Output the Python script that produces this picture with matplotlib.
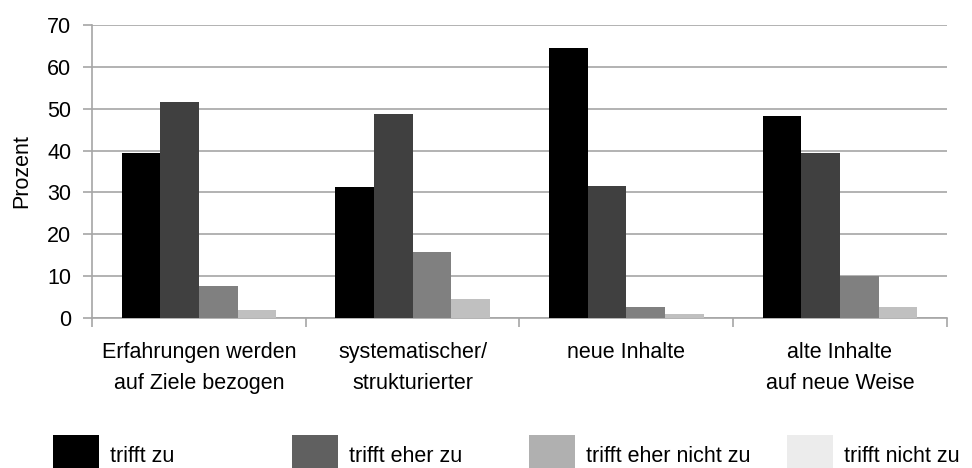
import numpy as np
import matplotlib
matplotlib.use("Agg")
import matplotlib.pyplot as plt
from matplotlib.patches import Rectangle

plt.rcParams['font.family'] = ['Liberation Sans', 'DejaVu Sans']

categories = ["Erfahrungen werden\nauf Ziele bezogen", "systematischer/\nstrukturierter",
              "neue Inhalte", "alte Inhalte\nauf neue Weise"]
series = ["trifft zu", "trifft eher zu", "trifft eher nicht zu", "trifft nicht zu"]
trifft_zu = [39.3, 31.3, 64.4, 48.2]
eher_zu = [51.5, 48.7, 31.5, 39.4]
eher_nicht_zu = [7.6, 15.8, 2.6, 10.0]
nicht_zu = [1.9, 4.5, 1.0, 2.6]

bar_colors = ["#000000", "#404040", "#808080", "#c0c0c0"]
legend_colors = ["#000000", "#606060", "#b0b0b0", "#ececec"]
fs = 15.5

fig = plt.figure(figsize=(9.72, 4.68), dpi=100)
ax = fig.add_axes([0.0947, 0.3205, 0.8793, 0.6261])

x = np.arange(len(categories))
width = 0.181
values = [trifft_zu, eher_zu, eher_nicht_zu, nicht_zu]
for i, vals in enumerate(values):
    ax.bar(x + (i - 1.5) * width, vals, width, color=bar_colors[i], zorder=3)

ax.set_xlim(-0.5, len(categories) - 0.5)
ax.set_ylim(0, 70)
ax.set_yticks(range(0, 71, 10))
ax.yaxis.grid(True, color="#a6a6a6", linewidth=1.2, zorder=0)
ax.set_axisbelow(True)

for s in ["top", "right"]:
    ax.spines[s].set_visible(False)
for s in ["left", "bottom"]:
    ax.spines[s].set_color("#a6a6a6")
    ax.spines[s].set_linewidth(1.2)

ax.set_xticks(x)
ax.set_xticklabels(categories, fontsize=fs, linespacing=1.65)
ax.set_xticks(np.arange(-0.5, len(categories)), minor=True)
ax.tick_params(axis="x", which="major", length=0, pad=17)
ax.tick_params(axis="x", which="minor", length=6.5, color="#a6a6a6", width=1.2)
ax.tick_params(axis="y", length=6.5, color="#a6a6a6", width=1.2, labelsize=fs, pad=8.5)
ax.set_ylabel("Prozent", fontsize=fs, labelpad=11)

# legend drawn by hand along the bottom edge
leg_x = [0.0545, 0.3004, 0.5442, 0.8097]
for lx, col, name in zip(leg_x, legend_colors, series):
    fig.add_artist(Rectangle((lx, 0.0), 0.0474, 0.0705, transform=fig.transFigure,
                             facecolor=col, edgecolor="none"))
    fig.text(lx + 0.0586, 0.002, name, fontsize=fs, va="bottom", ha="left")

fig.savefig("out.png", dpi=100)
